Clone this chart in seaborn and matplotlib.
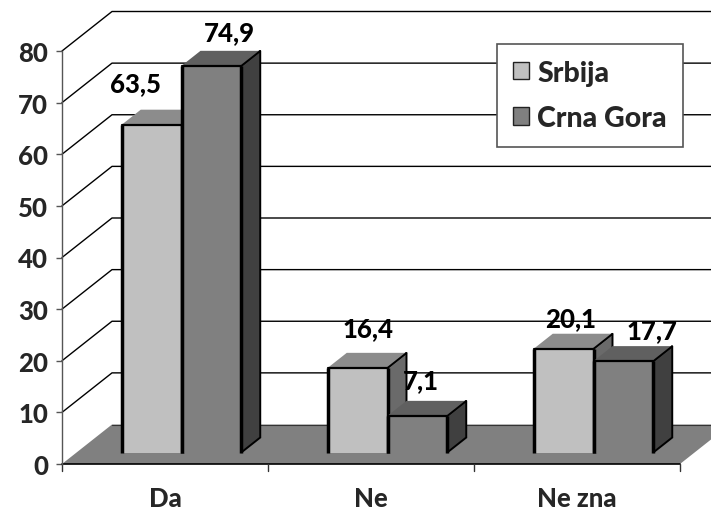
import matplotlib
matplotlib.use("Agg")
import matplotlib.pyplot as plt
import pandas as pd
import seaborn as sns
from matplotlib.patches import Polygon, Patch
from matplotlib.lines import Line2D
from matplotlib.transforms import Affine2D

categories = ["Da", "Ne", "Ne zna"]
srbija = [63.5, 16.4, 20.1]
crna_gora = [74.9, 7.1, 17.7]
series_names = ["Srbija", "Crna Gora"]
value_labels = [["63,5", "16,4", "20,1"], ["74,9", "7,1", "17,7"]]
y_ticks = list(range(0, 90, 10))

# label offsets from bar-top centre, in pixels
label_offsets = [[(-16, 42), (10, 40), (7, 31)], [(18, 34), (4, 36), (29, 31)]]

FRONT = ["#c0c0c0", "#808080"]
TOP = ["#8c8c8c", "#606060"]
SIDE = ["#6a6a6a", "#404040"]
FONT_SIZE = 18.5
LEGEND_SIZE = 20.5
WEIGHT = "black"

sns.set_style("white")
plt.rcParams["font.family"] = ["Lato", "DejaVu Sans"]
plt.rcParams["font.weight"] = WEIGHT

W, H = 711, 510
fig = plt.figure(figsize=(W / 100, H / 100), dpi=100)
ax = fig.add_axes([62 / W, (H - 465) / H, (680 - 62) / W, (465 - 52) / H])
ax.patch.set_alpha(0)

df = pd.DataFrame({
    "cat": categories * 2,
    "val": srbija + crna_gora,
    "ser": [series_names[0]] * 3 + [series_names[1]] * 3,
})
sns.barplot(data=df, x="cat", y="val", hue="ser", palette=FRONT, saturation=1,
            width=0.58, gap=0, dodge=True, legend=False, ax=ax)
ax.set_xlim(-0.5, 2.5)
ax.set_ylim(0, 80)
ax.set_xlabel("")
ax.set_ylabel("")


def shifted(dx, dy):
    return ax.transData + Affine2D().translate(dx, dy)


BACK_X, BACK_Y = 50, 39.5
BAR_X, BAR_Y = 16.5, 11.5
DEPTH_X, DEPTH_Y = 19, 15

base = ax.transData
identity = Affine2D()


def px(x, y, dx=0, dy=0):
    """Display position of a data point with a pixel shift."""
    X, Y = base.transform((x, y))
    return (X + dx, Y + dy)


def line(pts, **kw):
    ax.add_artist(Line2D(*zip(*pts), transform=identity, clip_on=False, **kw))


# floor
ax.add_patch(Polygon([px(-0.5, 0), px(-0.5, 0, BACK_X, BACK_Y), px(2.5, 0, BACK_X, BACK_Y), px(2.5, 0)],
                     closed=True, facecolor="#808080", edgecolor="none",
                     transform=identity, zorder=1, clip_on=False))
line([px(-0.5, 0), px(2.5, 0)], color="black", lw=1.2, zorder=1.2)
line([px(-0.5, 0, BACK_X, BACK_Y), px(2.5, 0, BACK_X, BACK_Y)], color="#333333", lw=0.8, zorder=1.2)

# walls: grid lines run up the side wall, then across the back wall
for v in y_ticks[1:]:
    line([px(-0.5, v), px(-0.5, v, BACK_X, BACK_Y), px(2.5, v, BACK_X, BACK_Y)],
         color="black", lw=1.0, zorder=0.5)

# bars
z = 3
for i, cont in enumerate(ax.containers):
    for j, bar in enumerate(cont):
        bar.set_linewidth(0)
        bar.set_transform(shifted(BAR_X, BAR_Y))
        bar.set_clip_on(False)
        x0, x1 = bar.get_x(), bar.get_x() + bar.get_width()
        h = bar.get_height()
        bl = px(x0, 0, BAR_X, BAR_Y)
        br = px(x1, 0, BAR_X, BAR_Y)
        tl = px(x0, h, BAR_X, BAR_Y)
        tr = px(x1, h, BAR_X, BAR_Y)
        shift = lambda p: (p[0] + DEPTH_X, p[1] + DEPTH_Y)
        ax.add_patch(Polygon([tr, br, shift(br), shift(tr)], closed=True, facecolor=SIDE[i],
                             edgecolor="black", lw=1.4, transform=identity, zorder=z, clip_on=False))
        ax.add_patch(Polygon([tl, tr, shift(tr), shift(tl)], closed=True, facecolor=TOP[i],
                             edgecolor="none", transform=identity, zorder=z + 0.1, clip_on=False))
        bar.set_zorder(z + 0.2)
        line([bl, tl], color="black", lw=2.5, solid_capstyle="butt", zorder=z + 0.3)
        line([br, tr], color="black", lw=2.5, solid_capstyle="butt", zorder=z + 0.3)
        line([tl, tr], color="black", lw=1.6, zorder=z + 0.3)
        line([tr, shift(tr)], color="black", lw=1.2, zorder=z + 0.3)
        ox, oy = label_offsets[i][j]
        cx, cy = px((x0 + x1) / 2, h, BAR_X, BAR_Y)
        ax.text(cx + ox, cy + oy, value_labels[i][j], transform=identity, ha="center", va="center",
                fontsize=FONT_SIZE, fontweight=WEIGHT, color="black", zorder=30)
        z += 1

# axes and ticks
for s in ("top", "right", "bottom"):
    ax.spines[s].set_visible(False)
ax.spines["left"].set_color("#555555")
ax.spines["left"].set_linewidth(1)
ax.spines["left"].set_zorder(2)
ax.set_yticks(y_ticks)
ax.set_xticks([0, 1, 2], categories)
ax.tick_params(axis="y", left=True, length=4, width=1, color="#555555", pad=6, labelsize=FONT_SIZE)
ax.tick_params(axis="x", bottom=False, pad=12, labelsize=FONT_SIZE)
for lab in ax.get_xticklabels() + ax.get_yticklabels():
    lab.set_fontweight(WEIGHT)
for b in (-0.5, 0.5, 1.5, 2.5):
    a = px(b, 0)
    line([a, (a[0], a[1] - 7)], color="#333333", lw=1, zorder=2)

# legend
handles = [Patch(facecolor=FRONT[k], edgecolor="#222222", lw=1, label=series_names[k]) for k in range(2)]
leg = ax.legend(handles=handles, loc="upper left", bbox_to_anchor=(497 / W, (H - 45) / H),
                bbox_transform=fig.transFigure, frameon=True, fancybox=False, framealpha=1,
                facecolor="white", edgecolor="#555555", handlelength=0.58, handleheight=0.58,
                handletextpad=0.29, labelspacing=0.68, borderpad=0.55, borderaxespad=0,
                prop={"weight": WEIGHT, "size": LEGEND_SIZE})
leg.set_zorder(40)
leg.get_frame().set_linewidth(1.2)

fig.savefig("out.png", dpi=100)
